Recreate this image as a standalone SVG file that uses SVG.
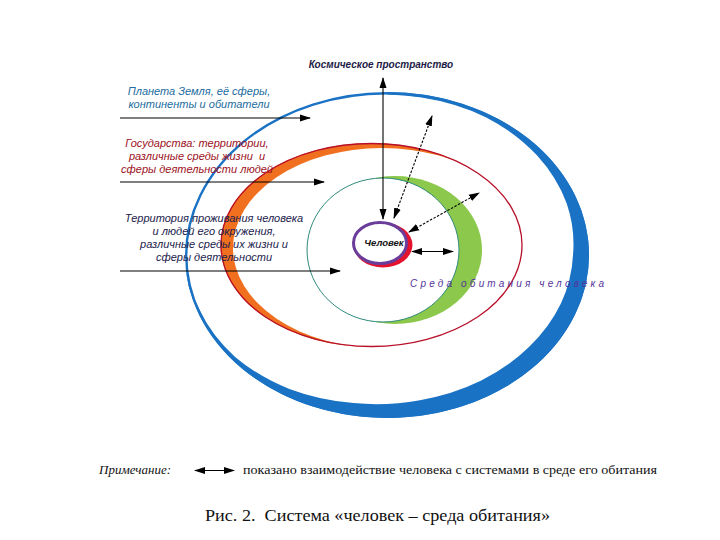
<svg xmlns="http://www.w3.org/2000/svg" width="720" height="540" viewBox="0 0 720 540">
<style>
.lbl{font-family:"Liberation Sans","DejaVu Sans",sans-serif;font-style:italic;font-size:11px;text-anchor:middle}
.ser{font-family:"Liberation Serif","DejaVu Serif",serif;fill:#111}
.ar{stroke:#000;stroke-width:1.1;fill:none;marker-end:url(#ah);marker-start:url(#ah)}
.ar1{stroke:#000;stroke-width:1.1;fill:none;marker-end:url(#ah)}
.dash{stroke-dasharray:2.5 1.5}
</style>
<defs>
<marker id="ah" markerUnits="userSpaceOnUse" markerWidth="11" markerHeight="8" refX="10" refY="4" orient="auto-start-reverse">
<path d="M0,0.5 L11,4 L0,7.5 z" fill="#000"/>
</marker>
<mask id="mOrange" maskUnits="userSpaceOnUse" x="0" y="0" width="720" height="540">
<ellipse cx="371.5" cy="245" rx="151" ry="102" fill="#fff"/>
<ellipse cx="382" cy="248" rx="149" ry="100" fill="#000"/>
</mask>
<mask id="mGreen" maskUnits="userSpaceOnUse" x="0" y="0" width="720" height="540">
<ellipse cx="395" cy="250" rx="87" ry="74" fill="#fff"/>
<ellipse cx="383" cy="250" rx="76" ry="72" fill="#000"/>
</mask>
</defs>
<rect width="720" height="540" fill="#fff"/>

<g id="planet">
<ellipse cx="387" cy="255" rx="200.8" ry="161.8" fill="none" stroke="#1a72c4" stroke-width="2.4"/>
<path fill="#1a72c4" d="M387,92 A202,163 0 1 1 185.8,269.2 A195,155 0 0 0 199.5,309.7 A195,155 0 0 0 235.1,356.9 A195,155 0 0 0 289.4,389 A195,155 0 0 0 353.7,403.1 A195,155 0 0 0 419.9,400.2 A195,155 0 0 0 480.8,380.8 A195,155 0 0 0 529.2,346.8 A195,155 0 0 0 560.9,303.5 A195,155 0 0 0 573,255 A195,155 0 0 0 566.8,203.8 A195,155 0 0 0 536.9,155.3 A195,155 0 0 0 486.3,117.4 A195,155 0 0 0 421.7,97.5 A195,155 0 0 0 387,94.5 Z"/>
</g>
<g id="state">
<rect x="0" y="0" width="720" height="540" fill="#f0701f" mask="url(#mOrange)"/>
<ellipse cx="371.5" cy="245" rx="150.5" ry="101.5" fill="none" stroke="#b8102a" stroke-width="1.3"/>
</g>
<g id="territory">
<rect x="0" y="0" width="720" height="540" fill="#8cc84b" mask="url(#mGreen)"/>
<ellipse cx="383" cy="250" rx="76" ry="72" fill="none" stroke="#2f8a7c" stroke-width="1"/>
</g>
<g id="human">
<ellipse cx="383" cy="245" rx="29.5" ry="22.5" fill="#e3132e"/>
<ellipse cx="380" cy="243" rx="26.5" ry="20.5" fill="#fff" stroke="#6b3d9a" stroke-width="3"/>
<text x="384" y="246" style="font-family:'Liberation Sans','DejaVu Sans',sans-serif;font-style:italic;font-weight:bold;font-size:9.5px;text-anchor:middle" fill="#111">Человек</text>
</g>

<g id="connectors">
<line class="ar" x1="383" y1="78" x2="383" y2="219"/>
<line class="ar dash" x1="394" y1="218" x2="432" y2="116"/>
<line class="ar dash" x1="409" y1="232" x2="479" y2="193"/>
<line class="ar" x1="412" y1="251.5" x2="453" y2="251.5"/>
<line class="ar1" x1="120" y1="118" x2="310" y2="118"/>
<line class="ar1" x1="120" y1="182" x2="324" y2="182"/>
<line class="ar1" x1="120" y1="271" x2="340" y2="271"/>
</g>

<g id="space">
<text x="381" y="68" class="lbl" style="font-size:10px;font-weight:bold" fill="#1c1c46">Космическое пространство</text>
</g>
<g id="planet-label">
<text class="lbl" fill="#226c9e" x="199" y="95">Планета Земля, её сферы,</text>
<text class="lbl" fill="#226c9e" x="199" y="108">континенты и обитатели</text>
</g>
<g id="state-label">
<text class="lbl" fill="#9c1022" x="197" y="147">Государства: территории,</text>
<text class="lbl" fill="#9c1022" x="197" y="160" xml:space="preserve">различные среды жизни  и</text>
<text class="lbl" fill="#9c1022" x="197" y="173">сферы деятельности людей</text>
</g>
<g id="territory-label">
<text class="lbl" fill="#1b1b4c" x="214" y="222">Территория проживания человека</text>
<text class="lbl" fill="#1b1b4c" x="214" y="235">и людей его окружения,</text>
<text class="lbl" fill="#1b1b4c" x="214" y="248">различные среды их жизни и</text>
<text class="lbl" fill="#1b1b4c" x="214" y="261">сферы деятельности</text>
</g>
<g id="habitat-label">
<text x="410" y="287" textLength="194" lengthAdjust="spacing" style="font-family:'Liberation Sans','DejaVu Sans',sans-serif;font-style:italic;font-size:10px" fill="#55339a">Среда обитания человека</text>
</g>

<g id="legend">
<text class="ser" x="99" y="474" textLength="72" lengthAdjust="spacingAndGlyphs" style="font-style:italic;font-size:12.5px">Примечание:</text>
<line class="ar" x1="195" y1="470.5" x2="234" y2="470.5"/>
<text class="ser" x="243" y="474" textLength="414" lengthAdjust="spacingAndGlyphs" style="font-size:12px">показано взаимодействие человека с системами в среде его обитания</text>
<text class="ser" x="205" y="521" textLength="345" lengthAdjust="spacingAndGlyphs" xml:space="preserve" style="font-size:17px">Рис. 2.  Система «человек – среда обитания»</text>
</g>
</svg>
